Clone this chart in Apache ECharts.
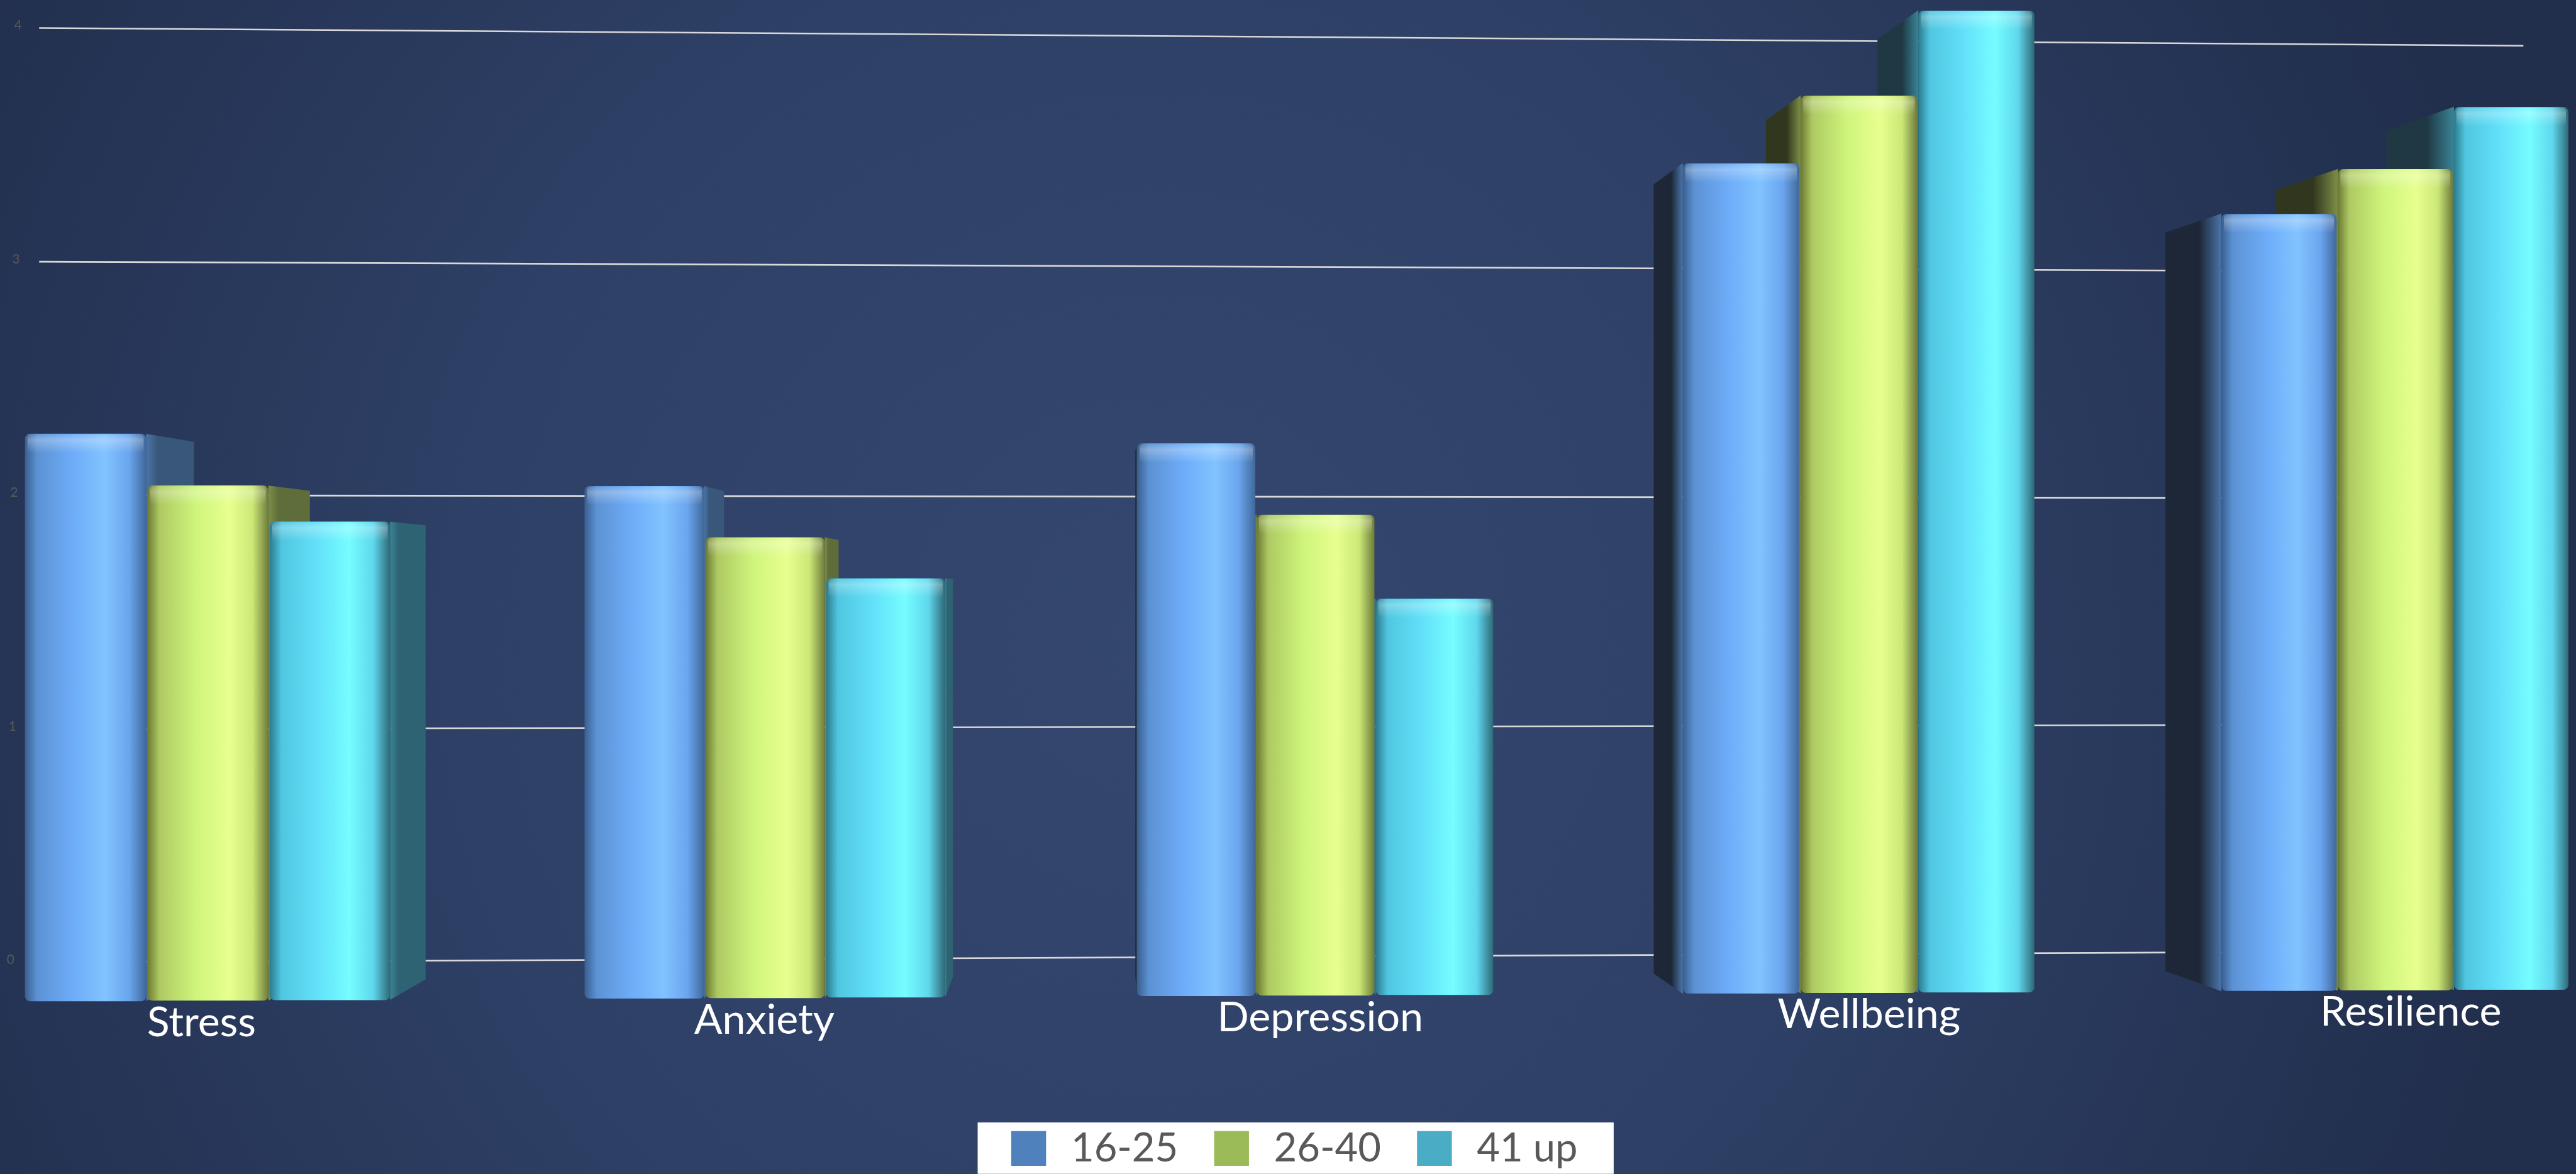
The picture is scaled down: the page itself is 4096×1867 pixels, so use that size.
<!DOCTYPE html>
<html>
<head>
<meta charset="utf-8">
<script src="https://cdn.jsdelivr.net/npm/echarts@6/dist/echarts.min.js"></script>
<style>
  html, body { margin: 0; padding: 0; background: #233150; }
  #chart { width: 4096px; height: 1867px; }
</style>
</head>
<body>
<div id="chart"></div>
<script>
// ---- data ----
const categories = ['Stress', 'Anxiety', 'Depression', 'Wellbeing', 'Resilience'];
const groupNames = ['16-25', '26-40', '41 up'];
const age16to25 = [2.2, 2.0, 2.17, 3.28, 3.09];
const age26to40 = [2.0, 1.8, 1.89, 3.55, 3.27];
const age41up   = [1.86, 1.64, 1.56, 3.89, 3.52];
const yTicks = [0, 1, 2, 3, 4];

// ---- layout / perspective ----
const S = 4096 / 4142;            // overall drawing scale
const VPX = 1770 * S, VPY = 950 * S; // vanishing point of the 3D view
const FRONT = 1.106;              // front plane of the bars vs. back wall
const DEPTH = 0.95;               // bar back face vs. bar front face
const SKEW = 7.94e-6 / S;         // wall turns away towards the right

function project(x, y, m) {
  const w = 1 - SKEW * (x - VPX);
  return [VPX + (x - VPX) * w * m, VPY + (y - VPY) * w * m];
}
function recede(p) {
  return [VPX + (p[0] - VPX) * DEPTH, VPY + (p[1] - VPY) * DEPTH];
}

const legendColors = ['#4F81BD', '#9BBB59', '#4BACC6'];
const faceStops = [
  [[0, '#3a5f90'], [0.1, '#5c92d4'], [0.4, '#6eadf9'], [0.66, '#81c3ff'], [0.86, '#6aa5ee'], [1, '#40689a']],
  [[0, '#6b7a33'], [0.1, '#aec962'], [0.4, '#cff57c'], [0.68, '#e7ff8f'], [0.87, '#cbe877'], [1, '#6e7c3a']],
  [[0, '#2c7a8c'], [0.1, '#50c6e0'], [0.4, '#63e1fa'], [0.66, '#75fdff'], [0.86, '#5fd7ed'], [1, '#2e6977']]
];
const sideLit   = ['#385779', '#5e6d39', '#2d6373'];
const sideEdge  = ['#4a75a8', '#7d8f46', '#3a8496'];
const sideShade = ['#1d2737', '#31371f', '#1f3843'];

function grad(x2, y2, stops) {
  return new echarts.graphic.LinearGradient(0, 0, x2, y2,
    stops.map(s => ({ offset: s[0], color: s[1] })));
}

function renderBar(idx) {
  return function (params, api) {
    const ci = api.value(0), v = api.value(1);
    const band = api.size([1, 0])[0];
    const base = api.coord([ci, 0]);
    const top = api.coord([ci, v]);
    const pitch = band * 0.2178, bw = band * 0.2155;
    const cx = base[0] + (idx - 1) * pitch;
    const xl = cx - bw / 2, xr = cx + bw / 2;
    const lt = project(xl, top[1], FRONT), rt = project(xr, top[1], FRONT);
    const lb = project(xl, base[1], FRONT), rb = project(xr, base[1], FRONT);
    const children = [];
    let order = idx;
    if (rt[0] < VPX) {
      // right-hand side face visible
      order = idx;
      children.push({
        type: 'polygon',
        shape: { points: [rt, recede(rt), recede(rb), rb] },
        style: { fill: grad(1, 0, [[0, sideEdge[idx]], [0.25, sideLit[idx]], [1, sideLit[idx]]]) },
        z2: order * 10
      });
    } else if (lt[0] > VPX) {
      // left-hand side face visible
      order = 2 - idx;
      children.push({
        type: 'polygon',
        shape: { points: [lt, recede(lt), recede(lb), lb] },
        style: { fill: grad(1, 0, [[0, sideShade[idx]], [0.6, sideShade[idx]], [1, sideEdge[idx]]]) },
        z2: order * 10
      });
    }
    const fx = lt[0], fy = (lt[1] + rt[1]) / 2;
    const fw = rt[0] - lt[0], fh = (lb[1] + rb[1]) / 2 - fy;
    children.push({
      type: 'rect',
      shape: { x: fx, y: fy, width: fw, height: fh, r: 8 * S },
      style: { fill: grad(1, 0, faceStops[idx]) },
      z2: order * 10 + 1
    });
    children.push({
      type: 'rect',
      shape: { x: fx + 4 * S, y: fy + 1, width: fw - 8 * S, height: 30 * S, r: 6 * S },
      style: { fill: grad(0, 1, [[0, 'rgba(255,255,255,0.08)'], [0.3, 'rgba(255,255,255,0.28)'], [1, 'rgba(255,255,255,0)']]) },
      z2: order * 10 + 2
    });
    return { type: 'group', children: children };
  };
}

function barSeries(idx, values) {
  return {
    name: groupNames[idx],
    type: 'custom',
    coordinateSystem: 'cartesian2d',
    itemStyle: { color: legendColors[idx] },
    renderItem: renderBar(idx),
    encode: { x: 0, y: 1 },
    data: values.map((v, i) => [i, v]),
    z: 2,
    silent: true
  };
}

const chart = echarts.init(document.getElementById('chart'), null, { renderer: 'canvas' });

chart.setOption({
  animation: false,
  graphic: [{
    type: 'rect',
    silent: true,
    z: -10,
    shape: { x: 0, y: 0, width: 4096, height: 1867 },
    style: {
      fill: new echarts.graphic.RadialGradient(0.45, 0.55, 1.2, [
        { offset: 0, color: '#34476f' },
        { offset: 0.5, color: '#2e4066' },
        { offset: 1, color: '#212e4c' }
      ])
    }
  }],
  grid: { left: 85.5 * S, top: 57 * S, width: 3995 * S, height: 1483 * S, outerBoundsMode: 'none' },
  xAxis: { type: 'category', data: categories, show: false },
  yAxis: { type: 'value', min: 0, max: 4, interval: 1, show: false },
  legend: {
    data: groupNames,
    left: 1572 * S,
    top: 1805 * S,
    backgroundColor: '#ffffff',
    padding: [10 * S, 58 * S, 9 * S, 54 * S],
    itemWidth: 56 * S,
    itemHeight: 56 * S,
    itemGap: 58 * S,
    icon: 'rect',
    selectedMode: false,
    textStyle: {
      fontSize: 64 * S,
      fontFamily: 'Lato',
      color: '#595959',
      lineHeight: 56 * S,
      padding: [0, 0, 0, 35 * S]
    }
  },
  series: [
    barSeries(0, age16to25),
    barSeries(1, age26to40),
    barSeries(2, age41up),
    {
      // back-wall gridlines and value labels
      type: 'custom',
      coordinateSystem: 'cartesian2d',
      silent: true,
      z: 1,
      encode: { x: 0, y: 1 },
      data: yTicks.map(v => [0, v]),
      renderItem: function (params, api) {
        const v = api.value(1);
        const y = api.coord([0, v])[1];
        const cs = params.coordSys;
        const a = project(cs.x, y, 1);
        const b = project(cs.x + cs.width + 20 * S, y, 1);
        return {
          type: 'group',
          children: [
            { type: 'line', shape: { x1: a[0], y1: a[1], x2: b[0], y2: b[1] },
              style: { stroke: '#d9d9d9', lineWidth: 2.6 * S } },
            { type: 'text', x: a[0] - (28 + 3 * (4 - v)) * S, y: a[1] - 4 * S,
              style: { text: String(v), fill: '#595959', fontSize: 21 * S, fontFamily: 'Lato',
                       align: 'right', verticalAlign: 'middle' } }
          ]
        };
      }
    },
    {
      // category names under each group of bars (floor edge, slightly in front of the bars)
      type: 'custom',
      coordinateSystem: 'cartesian2d',
      silent: true,
      z: 5,
      encode: { x: 0, y: 1 },
      data: categories.map((c, i) => [i, 0]),
      renderItem: function (params, api) {
        const i = api.value(0);
        const p = api.coord([i, 0]);
        const f = project(p[0], p[1], FRONT * 1.01);
        return {
          type: 'text', x: f[0] + 4 * S, y: f[1] + 29 * S,
          style: { text: categories[i], fill: '#ffffff', fontSize: 67 * S, fontFamily: 'Lato',
                   align: 'center', verticalAlign: 'middle' }
        };
      }
    }
  ]
});
</script>
</body>
</html>
